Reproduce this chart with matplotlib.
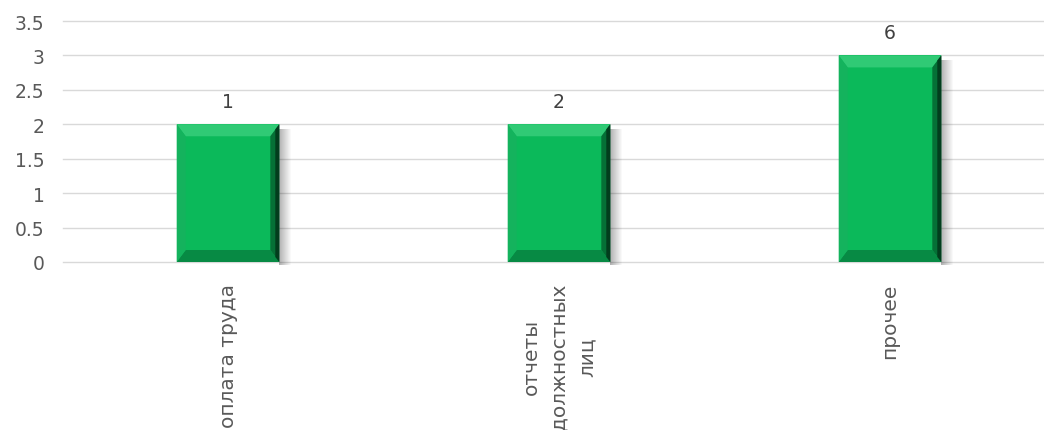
import numpy as np
import matplotlib
matplotlib.use("Agg")
import matplotlib.pyplot as plt
from matplotlib.patches import Polygon

plt.rcParams['font.family'] = ['DejaVu Sans']

# данные
categories = ['оплата труда', 'отчеты\nдолжностных\nлиц', 'прочее']
values = [2, 2, 3]
labels = ['1', '2', '6']
yticks = [0, 0.5, 1, 1.5, 2, 2.5, 3, 3.5]

fig = plt.figure(figsize=(10.44, 4.31), dpi=100)
ax = fig.add_axes([62.5 / 1044, 168 / 431, 993 / 1044, 241 / 431])

x = np.arange(len(categories))
w = 0.31
ax.set_xlim(-0.5, len(categories) - 0.5)
ax.set_ylim(0, 3.5)

ax.set_yticks(yticks)
ax.set_yticklabels(['0', '0.5', '1', '1.5', '2', '2.5', '3', '3.5'])
ax.yaxis.grid(True, color='#d9d9d9', lw=1.0)
for gl in ax.get_ygridlines():
    gl.set_clip_on(False)
ax.set_axisbelow(True)
for s in ax.spines.values():
    s.set_visible(False)
ax.tick_params(axis='y', length=0, pad=13, labelsize=13.5, labelcolor='#595959')
ax.tick_params(axis='x', length=0)
ax.set_xticks(x)
ax.set_xticklabels([])

to_data = ax.transData.inverted()

def poly(pts_px, color, z=3, alpha=1.0):
    pts = to_data.transform(pts_px)
    ax.add_patch(Polygon(pts, closed=True, facecolor=color, edgecolor='none',
                         zorder=z, alpha=alpha, clip_on=False))

for xi, v, lab in zip(x, values, labels):
    (px0, py0), (px1, py1) = ax.transData.transform([(xi - w / 2, 0), (xi + w / 2, v)])
    # тень справа
    for k in range(12):
        poly([(px1 + k, py0 - 3), (px1 + k + 1, py0 - 3), (px1 + k + 1, py1 - 5),
              (px1 + k, py1 - 5)], '#000000', z=2, alpha=0.3 * (1 - k / 12))
    # основа
    poly([(px0, py0), (px1, py0), (px1, py1), (px0, py1)], '#0bb95a')
    b = 12
    bs = 9
    # верх
    poly([(px0, py1), (px1, py1), (px1 - bs, py1 - b), (px0 + bs, py1 - b)], '#30ca75', z=4)
    # низ
    poly([(px0, py0), (px1, py0), (px1 - bs, py0 + b), (px0 + bs, py0 + b)], '#078a44', z=4)
    # лево
    poly([(px0, py0), (px0 + bs, py0 + b), (px0 + bs, py1 - b), (px0, py1)], '#14b35d', z=4)
    # право
    poly([(px1, py0), (px1 - bs, py0 + b), (px1 - bs, py1 - b), (px1, py1)], '#057036', z=4)
    poly([(px1, py0), (px1 - 4, py0 + 5), (px1 - 4, py1 - 5), (px1, py1)], '#023d1d', z=5)
    ax.text(xi, v + 0.2, lab, ha='center', va='bottom', fontsize=13.5, color='#404040')

for xi, c in zip(x, categories):
    ax.text(xi, -0.3, c, rotation=90, ha='center', va='top', fontsize=14.5,
            color='#595959', multialignment='center', linespacing=1.6)

fig.savefig('out.png', dpi=100)
